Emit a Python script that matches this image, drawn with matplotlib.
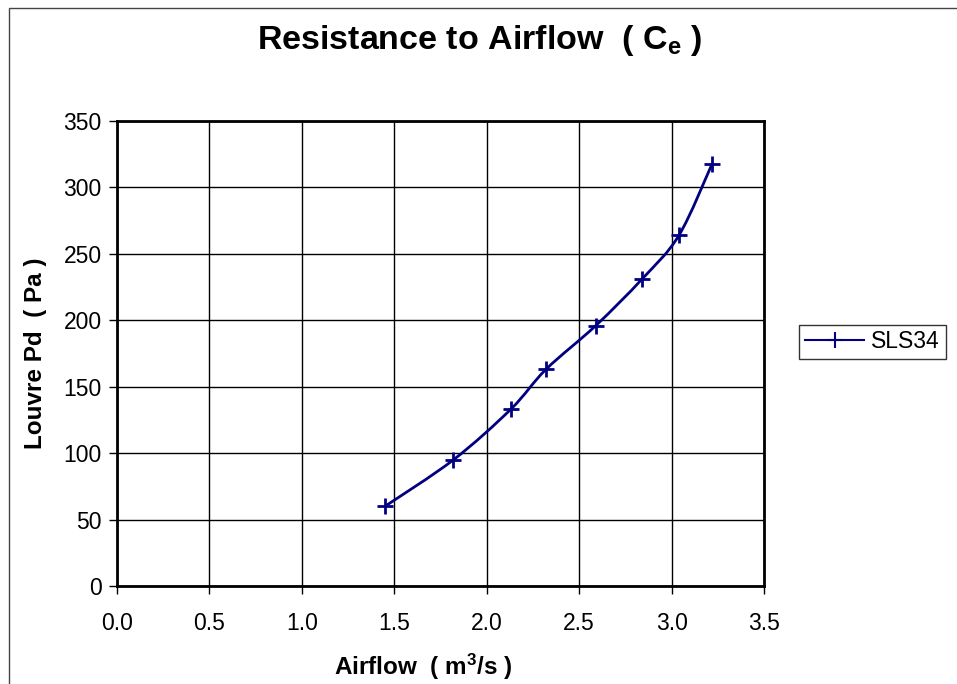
import numpy as np
import matplotlib.pyplot as plt
from matplotlib.path import Path
from matplotlib.patches import PathPatch, Rectangle

plt.rcParams['font.family'] = ['Liberation Sans', 'DejaVu Sans']
plt.rcParams['mathtext.fontset'] = 'custom'
plt.rcParams['mathtext.rm'] = 'Liberation Sans:bold'
plt.rcParams['mathtext.it'] = 'Liberation Sans:bold'
plt.rcParams['mathtext.bf'] = 'Liberation Sans:bold'

airflow = [1.45, 1.82, 2.13, 2.32, 2.59, 2.84, 3.04, 3.22]
pressure = [60, 95, 133, 163, 196, 231, 264, 318]
series_name = "SLS34"
x_ticks = [0.0, 0.5, 1.0, 1.5, 2.0, 2.5, 3.0, 3.5]
y_ticks = [0, 50, 100, 150, 200, 250, 300, 350]

NAVY = '#000080'


def smooth_path(xs, ys):
    # Excel-style smoothed line: cubic bezier segments through each point
    p = np.column_stack([xs, ys]).astype(float)
    n = len(p)
    verts = [p[0]]
    codes = [Path.MOVETO]
    for i in range(n - 1):
        p0 = p[i - 1] if i > 0 else p[i]
        p1 = p[i]
        p2 = p[i + 1]
        p3 = p[i + 2] if i + 2 < n else p[i + 1]
        c1 = p1 + (p2 - p0) / 6.0
        c2 = p2 - (p3 - p1) / 6.0
        verts += [c1, c2, p2]
        codes += [Path.CURVE4] * 3
    return Path(verts, codes)


fig = plt.figure(figsize=(9.57, 6.84), dpi=100)
ax = fig.add_axes([117 / 957, 98 / 684, 647 / 957, 465 / 684])

# outer chart border (runs off the right / bottom edge)
fig.patches.append(Rectangle((9 / 957, 0 - 0.05), 1.2, (684 - 8) / 684 + 0.05,
                             transform=fig.transFigure, fill=False,
                             edgecolor='#444444', linewidth=1.0))

patch = PathPatch(smooth_path(airflow, pressure), facecolor='none',
                  edgecolor=NAVY, linewidth=2.0, zorder=3)
ax.add_patch(patch)
ax.plot(airflow, pressure, linestyle='none', marker='+', markersize=11,
        markeredgewidth=2.0, color=NAVY, zorder=4)
# legend proxy
ax.plot([], [], color=NAVY, linewidth=1.5, marker='+', markersize=11,
        markeredgewidth=1.5, label=series_name)

ax.set_xlim(0, 3.5)
ax.set_ylim(0, 350)
ax.set_xticks(x_ticks)
ax.set_xticklabels([f"{v:.1f}" for v in x_ticks])
ax.set_yticks(y_ticks)
ax.set_yticklabels([str(v) for v in y_ticks])
ax.grid(True, color='black', linewidth=1.0)
ax.set_axisbelow(True)
for s in ax.spines.values():
    s.set_linewidth(2.0)
ax.tick_params(direction='out', length=6, width=1.0, labelsize=16.5)
ax.tick_params(axis='x', pad=13)
ax.tick_params(axis='y', pad=5)

ax.set_xlabel(r"Airflow  ( m$^3$/s )", fontsize=17.5, fontweight='bold')
ax.xaxis.set_label_coords((423 - 117) / 647, -(652 - 586) / 465)
ax.set_ylabel("Louvre Pd  ( Pa )", fontsize=17.5, fontweight='bold', labelpad=12)

fig.text(480 / 957, 1 - 41 / 684, r"Resistance to Airflow  ( C$_e$ )",
         fontsize=24.5, fontweight='bold', ha='center', va='center')

leg = ax.legend(loc='center left', bbox_to_anchor=(799 / 957, 1 - 342 / 684),
                bbox_transform=fig.transFigure, fontsize=16.5, frameon=True,
                fancybox=False, edgecolor='black', handlelength=2.6,
                borderpad=0.25, handletextpad=0.3, borderaxespad=0)
leg.get_frame().set_linewidth(1.0)

fig.savefig('out.png', dpi=100)
